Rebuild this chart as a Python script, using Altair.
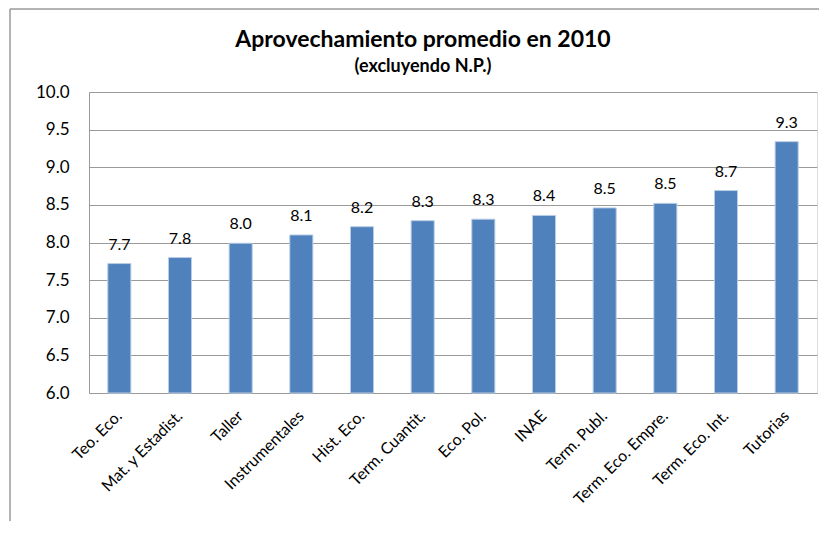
import altair as alt
import pandas as pd

categories = ["Teo. Eco.", "Mat. y Estadist.", "Taller", "Instrumentales", "Hist. Eco.",
              "Term. Cuantit.", "Eco. Pol.", "INAE", "Term. Publ.", "Term. Eco. Empre.",
              "Term. Eco. Int.", "Tutorias"]
values = [7.72, 7.80, 7.99, 8.10, 8.21, 8.29, 8.31, 8.36, 8.46, 8.52, 8.69, 9.34]
y_ticks = [6.0, 6.5, 7.0, 7.5, 8.0, 8.5, 9.0, 9.5, 10.0]
title_text = "Aprovechamiento promedio en 2010"
subtitle_text = "(excluyendo N.P.)"

df = pd.DataFrame({"cat": categories, "val": values})

FONT = "Lato"
GRID = "#9a9a9a"
W, H = 728, 301

x_enc = alt.X("cat:N", sort=categories, title=None,
              scale=alt.Scale(paddingInner=0.62, paddingOuter=0.31),
              axis=alt.Axis(labelAngle=-45, labelAlign="right", labelBaseline="middle",
                            labelPadding=20, ticks=False, domainColor=GRID,
                            labelFontSize=16, labelFont=FONT, labelColor="#000",
                            grid=False, labelLimit=250))
y_enc = alt.Y("val:Q", title=None,
              scale=alt.Scale(domain=[6.0, 10.0], nice=False, zero=False),
              axis=alt.Axis(values=y_ticks, format=".1f", ticks=False, labelPadding=20,
                            labelFontSize=17, labelFont=FONT, labelColor="#000",
                            domainColor=GRID, gridColor=GRID, grid=True))

base = alt.Chart(df)

bars = base.mark_bar(color="#4F81BD", stroke="#B9CDE5", strokeWidth=1).encode(
    x=x_enc, y=y_enc, y2=alt.datum(6.0))

labels = base.mark_text(baseline="alphabetic", dy=-14, fontSize=16, font=FONT,
                        color="#000").encode(
    x=x_enc, y=y_enc,
    text=alt.Text("val:Q", format=".1f"))

tdf = pd.DataFrame({"t": [title_text], "s": [subtitle_text]})
title = alt.Chart(tdf).mark_text(fontSize=23, fontWeight="bold", font=FONT,
                                 color="#000", align="center", baseline="alphabetic").encode(
    text="t:N", x=alt.value(334), y=alt.value(-45))
subtitle = alt.Chart(tdf).mark_text(fontSize=18, fontWeight="bold", font=FONT,
                                    color="#000", align="center", baseline="alphabetic").encode(
    text="s:N", x=alt.value(334), y=alt.value(-20))

border_top = alt.Chart(tdf).mark_rule(color=GRID, strokeWidth=1.5).encode(
    x=alt.value(-79), x2=alt.value(W + 10), y=alt.value(-83))
border_left = alt.Chart(tdf).mark_rule(color=GRID, strokeWidth=1.5).encode(
    x=alt.value(-79), y=alt.value(-83), y2=alt.value(H + 140))

chart = alt.layer(bars, labels, title, subtitle, border_top, border_left).properties(
    width=W, height=H,
    padding={"left": 81, "top": 84, "right": 2, "bottom": 128},
    autosize=alt.AutoSizeParams(type="none"),
).configure_view(stroke=None).configure(background="white")

chart.save("out.html", embed_options={"renderer": "svg", "actions": False})
